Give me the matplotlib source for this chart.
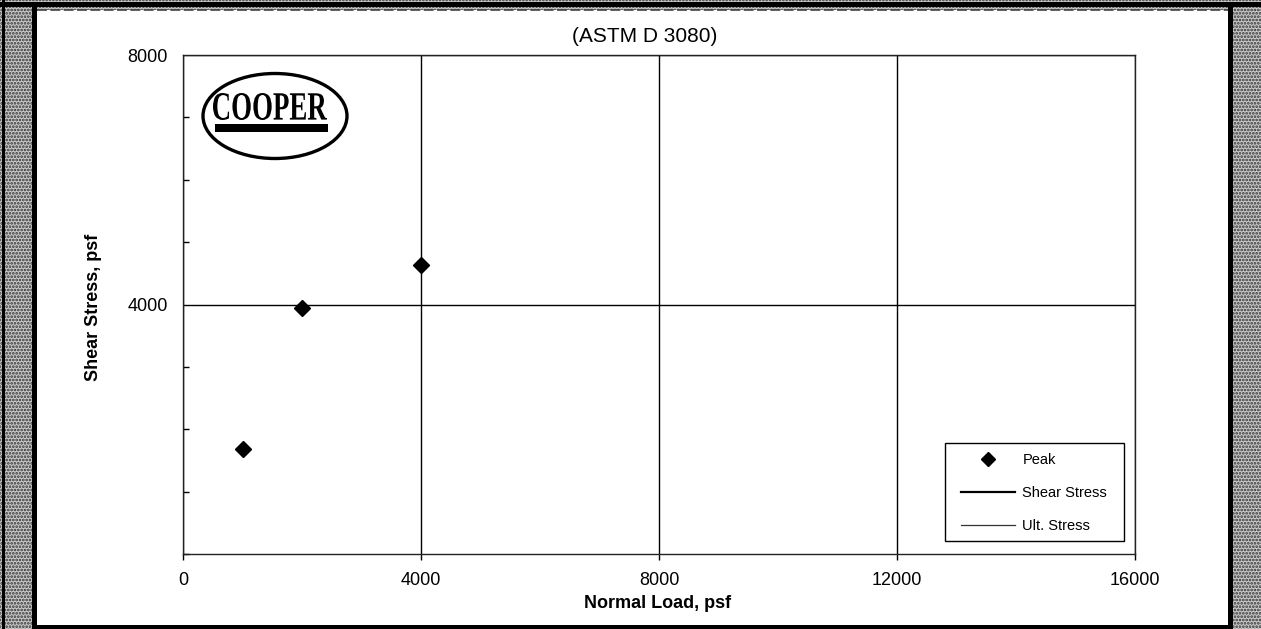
import matplotlib
matplotlib.use("Agg")
import matplotlib.pyplot as plt
from matplotlib.patches import Rectangle, Ellipse, PathPatch
from matplotlib.lines import Line2D
from matplotlib.textpath import TextPath
from matplotlib.font_manager import FontProperties
from matplotlib.transforms import Affine2D
from matplotlib.ticker import MultipleLocator

# ---------------- data ----------------
normal_load = [1000, 2000, 4000]          # psf
peak_shear = [1690, 3940, 4640]           # psf
shear_line_x = []                          # legend-only series
shear_line_y = []
ult_line_x = []
ult_line_y = []
x_ticks = [0, 4000, 8000, 12000, 16000]
y_ticks = [4000, 8000]
title_text = "(ASTM D 3080)"
x_label = "Normal Load, psf"
y_label = "Shear Stress, psf"
series_labels = ["Peak", "Shear Stress", "Ult. Stress"]

W, H = 1261, 629
plt.rcParams['font.family'] = ['Liberation Sans', 'DejaVu Sans']
plt.rcParams['hatch.color'] = '#111111'
plt.rcParams['hatch.linewidth'] = 1.3

fig = plt.figure(figsize=(W / 100, H / 100), dpi=100)
fig.patch.set_facecolor('#a8a8a8')


def frect(x0, y0, x1, y1, **kw):
    """rectangle given in figure pixels (top-left origin)"""
    r = Rectangle((x0 / W, 1 - y1 / H), (x1 - x0) / W, (y1 - y0) / H,
                  transform=fig.transFigure, **kw)
    fig.add_artist(r)
    return r

# stippled border
frect(0, 0, W, H, facecolor='#c8c8c8', edgecolor='#333333', hatch='.....', lw=0, zorder=-3)
# white panel
frect(36, 10, 1229, 625, facecolor='white', edgecolor='none', zorder=-2)
# frame bands
frect(2, 0, 5, H, facecolor='black', edgecolor='none', zorder=-1)
frect(0, 2, W, 7, facecolor='black', edgecolor='none', zorder=-1)
frect(32, 7, 37, 629, facecolor='black', edgecolor='none', zorder=-1)
frect(1228, 7, 1233, 629, facecolor='black', edgecolor='none', zorder=-1)
frect(32, 625, 1233, 629, facecolor='black', edgecolor='none', zorder=-1)
fig.add_artist(Line2D([37 / W, 1228 / W], [1 - 10 / H, 1 - 10 / H], transform=fig.transFigure,
                      color='#444444', lw=1.2, ls=(0, (6, 2)), zorder=-1))

# ---------------- axes ----------------
ax_l, ax_r, ax_t, ax_b = 183, 1135, 55, 554
ax = fig.add_axes([ax_l / W, 1 - ax_b / H, (ax_r - ax_l) / W, (ax_b - ax_t) / H])
ax.set_facecolor('white')

ax.plot(normal_load, peak_shear, ls='none', marker='D', ms=8, color='black',
        label=series_labels[0], zorder=4, clip_on=False)
ax.plot(shear_line_x, shear_line_y, color='black', lw=1.6, label=series_labels[1])
ax.plot(ult_line_x, ult_line_y, color='#333333', lw=0.9, label=series_labels[2])

ax.set_xlim(x_ticks[0], x_ticks[-1])
ax.set_ylim(0, y_ticks[-1])
ax.set_xticks(x_ticks)
ax.set_xticklabels([str(v) for v in x_ticks])
ax.set_yticks(y_ticks)
ax.set_yticklabels([str(v) for v in y_ticks])
ax.yaxis.set_minor_locator(MultipleLocator(1000))

ax.grid(True, which='major', color='black', lw=1.0)
ax.set_axisbelow(True)
for s in ax.spines.values():
    s.set_color('#222222')
    s.set_linewidth(1.0)

ax.tick_params(axis='x', which='major', direction='out', length=4, width=1,
               labelsize=13, pad=9, colors='black')
ax.tick_params(axis='y', which='major', direction='in', length=0, width=1,
               labelsize=13, pad=11, colors='black')
ax.tick_params(axis='y', which='minor', direction='in', length=4, width=1)

# titles / labels in figure pixels
fig.text(645 / W, 1 - 37 / H, title_text, ha='center', va='center', fontsize=15)
fig.text(658 / W, 1 - 604 / H, x_label, ha='center', va='center', fontsize=13, fontweight='bold')
fig.text(93 / W, 1 - 307 / H, y_label, ha='center', va='center', fontsize=13,
         fontweight='bold', rotation=90)

# ---------------- logo ----------------
aw, ah = ax_r - ax_l, ax_b - ax_t
def afx(px):
    return (px - ax_l) / aw
def afy(py):
    return (ax_b - py) / ah

ax.add_patch(Ellipse((afx(275), afy(116)), 144 / aw, 85 / ah, transform=ax.transAxes,
                     facecolor='white', edgecolor='black', lw=2.4, zorder=3, clip_on=False))
fp = FontProperties(family='Liberation Serif', weight='bold')
tp = TextPath((0, 0), "COOPER", size=1, prop=fp)
ext = tp.get_extents()
tr = (Affine2D().translate(-ext.x0, -ext.y0)
      .scale((114 / aw) / ext.width, (27 / ah) / ext.height)
      .translate(afx(213), afy(120)) + ax.transAxes)
ax.add_patch(PathPatch(tp, transform=tr, facecolor='black', edgecolor='none', zorder=3.5, clip_on=False))
ax.add_patch(Rectangle((afx(215), afy(132)), 113 / aw, 8 / ah, transform=ax.transAxes,
                       facecolor='black', edgecolor='none', zorder=3.5, clip_on=False))

# ---------------- legend ----------------
ax.add_patch(Rectangle(((945 - ax_l) / aw, afy(541)), (1124 - 945) / aw, (541 - 443) / ah,
                       transform=ax.transAxes, facecolor='white', edgecolor='black',
                       lw=1.0, zorder=4.8, clip_on=False))
leg = ax.legend(loc='upper left', bbox_to_anchor=(961 / W, 1 - 453 / H),
                bbox_transform=fig.transFigure, frameon=False, borderpad=0,
                borderaxespad=0, fontsize=10.5, handlelength=3.7, handletextpad=0.5,
                labelspacing=1.32, markerscale=0.85)
leg.set_zorder(5)

fig.savefig('out.png', dpi=100, facecolor=fig.get_facecolor())
